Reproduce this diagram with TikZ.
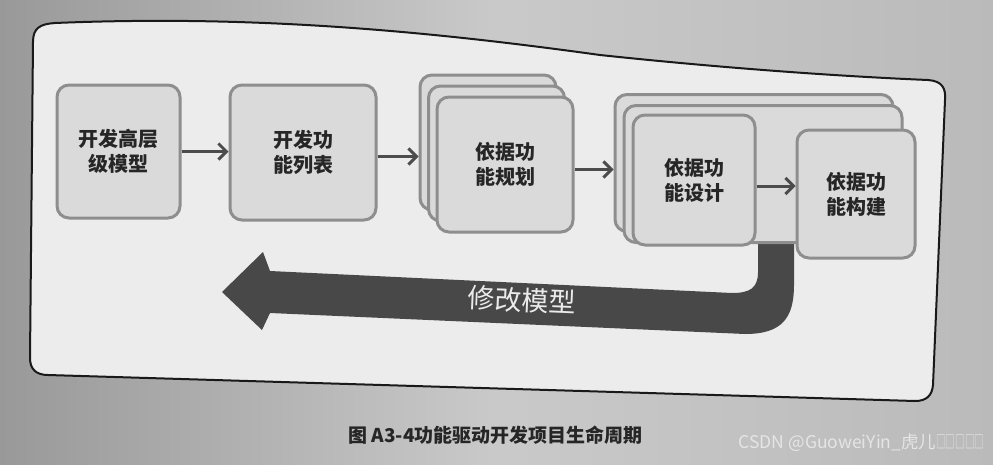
\documentclass[tikz,border=0pt]{standalone}
\usepackage{fontspec}
\newfontfamily\cjk{Noto Sans CJK SC}
\usetikzlibrary{arrows.meta}
\definecolor{boxline}{HTML}{8E8E8E}
\definecolor{boxfill}{HTML}{DADADA}
\definecolor{panelfill}{HTML}{ECECEC}
\definecolor{arrowdark}{HTML}{4C4C4C}
\definecolor{bigarrow}{HTML}{484848}
\tikzset{
  stagebox/.style={draw=boxline, line width=3pt, fill=boxfill, rounded corners=12pt,
    inner sep=0pt, align=center, font=\cjk\bfseries\fontsize{20}{25}\selectfont, text=black!85},
  flow/.style={draw=arrowdark, line width=3pt, -{Straight Barb[length=8pt,width=16pt,line width=3pt]}},
}
\begin{document}
\begin{tikzpicture}[x=1pt,y=-1pt]
\useasboundingbox (0,0) rectangle (993,464);
% page background
\shade[left color=black!40, right color=black!27, middle color=black!21] (0,0) rectangle (993,464);
% panel
\path[draw=black!90, line width=2pt, fill=panelfill]
  (33,42) .. controls (33,28) and (40,24) .. (55,23)
  .. controls (250,15) and (420,30) .. (600,55)
  .. controls (760,72) and (880,78) .. (928,80)
  .. controls (942,81) and (946,88) .. (945,100)
  -- (933,385)
  .. controls (932,396) and (926,401) .. (915,401)
  -- (48,375)
  .. controls (36,375) and (30,369) .. (30,358)
  -- cycle;
% big return arrow
\path[fill=bigarrow]
  (758,235) -- (758,272) .. controls (758,288) and (750,293) .. (732,293)
  -- (270,271) -- (263,252) -- (222,292) -- (262,330) -- (270,313)
  -- (745,334) .. controls (782,334) and (794,318) .. (794,285)
  -- (794,235) -- cycle;
\node[text=white!92!black, font=\cjk\fontsize{27}{30}\selectfont, rotate=-2.5] (fix) at (522,300) {修改模型};
% box 1
\node[stagebox, minimum width=123pt, minimum height=133pt] (b1) at (118.5,151.5) {开发高层\\级模型};
% box 2
\node[stagebox, minimum width=146pt, minimum height=135pt] (b2) at (303,152.5) {开发功\\能列表};
% box 3 stack
\node[stagebox, minimum width=136pt, minimum height=135pt] (b3b) at (488,142.5) {};
\node[stagebox, minimum width=136pt, minimum height=135pt] (b3m) at (496.5,153.5) {};
\node[stagebox, minimum width=136pt, minimum height=135pt] (b3) at (505,164.5) {依据功\\能规划};
% design stack
\node[stagebox, minimum width=278pt, minimum height=137pt] (b4b) at (754,163) {};
\node[stagebox, minimum width=278pt, minimum height=137pt] (b4m) at (763,174) {};
\node[stagebox, minimum width=122pt, minimum height=130pt] (b4) at (694,180) {依据功\\能设计};
% build
\node[stagebox, minimum width=118pt, minimum height=128pt] (b5) at (856,194) {依据功\\能构建};
% arrows
\draw[flow] (b1.east) -- (b2.west |- b1.east);
\draw[flow] (b2.east) ++(0,4) coordinate (a2s) -- (a2s -| b3b.west);
\draw[flow] (b3.east) ++(0,5) coordinate (a3s) -- (a3s -| b4b.west);
\draw[flow] (b4.east) ++(0,6) coordinate (a4s) -- (a4s -| b5.west);
% caption
\node[font=\cjk\bfseries\fontsize{19}{22}\selectfont, text=black!85, anchor=west] (cap) at (345,435) {图 A3-4功能驱动开发项目生命周期};
\node[font=\cjk\fontsize{17.5}{20}\selectfont, text=white!90!black, anchor=east] (wm) at (988,443) {CSDN @GuoweiYin\_虎儿\scalebox{0.55}[1]{□□□□□}};
\end{tikzpicture}
\end{document}
